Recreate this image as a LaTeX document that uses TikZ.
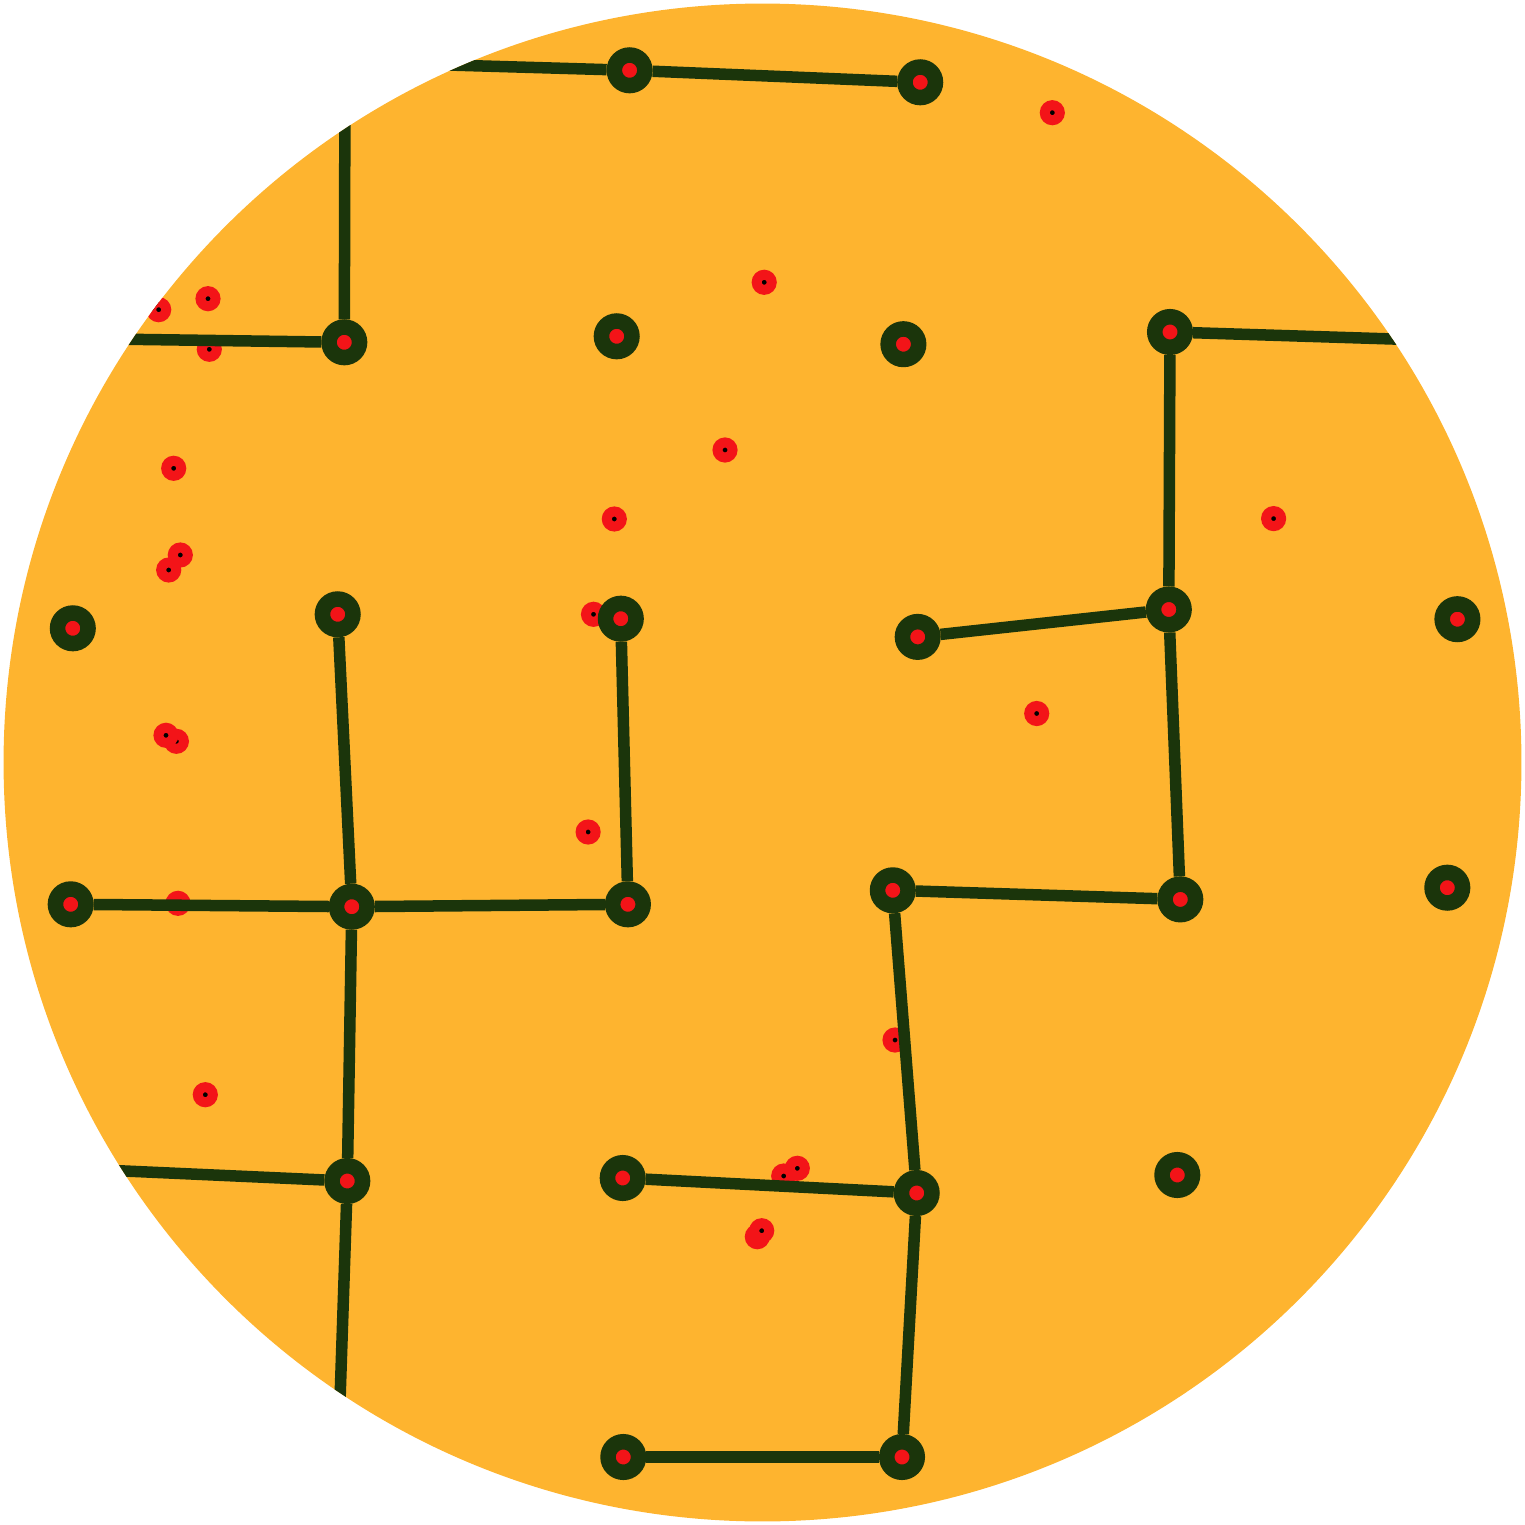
\documentclass[tikz,border=0pt]{standalone}
\usepackage{xcolor}
\definecolor{mzorange}{HTML}{FEB42F}
\definecolor{mzgreen}{HTML}{1B350B}
\definecolor{mzred}{HTML}{F31418}

\begin{document}
\begin{tikzpicture}[
    x=0.01cm, y=-0.01cm,
    vertex/.style={circle, fill=mzred, draw=mzgreen, line width=0.155cm,
                   minimum size=0.305cm, inner sep=0pt},
    spot/.style={circle, fill=black, draw=mzred, line width=0.1cm,
                 minimum size=0.15cm, inner sep=0pt},
    link/.style={line width=0.115cm, draw=mzgreen}
  ]
    \useasboundingbox (0,0) rectangle (1525,1525);
    \fill[mzorange] (762.5,762.5) circle [radius=7.585cm];
    \clip (762.5,762.5) circle [radius=7.585cm];

    \node[spot] (s1) at (1052.3,112.7) {};
    \node[spot] (s2) at (764.2,282.3) {};
    \node[spot] (s3) at (208,298.7) {};
    \node[spot] (s4) at (158.7,309.7) {};
    \node[spot] (s5) at (209.3,349.3) {};
    \node[spot] (s6) at (725,450) {};
    \node[spot] (s7) at (173.7,468.3) {};
    \node[spot] (s8) at (614.3,519) {};
    \node[spot] (s9) at (1273.6,518.6) {};
    \node[spot] (s10) at (180.3,555) {};
    \node[spot] (s11) at (168.7,570) {};
    \node[spot] (s12) at (593.5,614.3) {};
    \node[spot] (s13) at (1036.7,713.5) {};
    \node[spot] (s14) at (176.4,741.3) {};
    \node[spot] (s15) at (166,735.3) {};
    \node[spot] (s16) at (588.1,832) {};
    \node[spot] (s17) at (178,903.3) {};
    \node[spot] (s18) at (895,1040) {};
    \node[spot] (s19) at (205.3,1094.7) {};
    \node[spot] (s20) at (783.7,1176) {};
    \node[spot] (s21) at (797.3,1168.3) {};
    \node[spot] (s22) at (757.3,1236.7) {};
    \node[spot] (s23) at (761.7,1230.7) {};

    \coordinate (r1c1) at (345,62);
    \coordinate (r2c0) at (64,338.4);
    \coordinate (r2c5) at (1450,340.8);
    \coordinate (r5c0) at (67,1168.4);
    \coordinate (r6c1) at (338,1461);

    \node[vertex] (r1c2) at (629.6,70.3) {};
    \node[vertex] (r1c3) at (920.2,82.3) {};
    \node[vertex] (r2c1) at (344.3,342.3) {};
    \node[vertex] (r2c2) at (616.7,336.3) {};
    \node[vertex] (r2c3) at (903.4,344.2) {};
    \node[vertex] (r2c4) at (1170,332) {};
    \node[vertex] (r3c0) at (72.8,628.3) {};
    \node[vertex] (r3c1) at (337.7,614.3) {};
    \node[vertex] (r3c2) at (620.8,618.7) {};
    \node[vertex] (r3c3) at (917.7,636.9) {};
    \node[vertex] (r3c4) at (1168.8,609.5) {};
    \node[vertex] (r3c5) at (1457.4,619.2) {};
    \node[vertex] (r4c0) at (70.7,904.3) {};
    \node[vertex] (r4c1) at (351.8,906.7) {};
    \node[vertex] (r4c2) at (627.9,904.3) {};
    \node[vertex] (r4c3) at (892.8,890.3) {};
    \node[vertex] (r4c4) at (1180.3,899.4) {};
    \node[vertex] (r4c5) at (1447.3,887.7) {};
    \node[vertex] (r5c1) at (347.3,1181) {};
    \node[vertex] (r5c2) at (622.7,1178) {};
    \node[vertex] (r5c3) at (916.7,1193) {};
    \node[vertex] (r5c4) at (1177.3,1175) {};
    \node[vertex] (r6c2) at (623.3,1457) {};
    \node[vertex] (r6c3) at (902,1457) {};

    \draw[link] (r1c1) -- (r1c2);
    \draw[link] (r1c2) -- (r1c3);
    \draw[link] (r1c1) -- (r2c1);
    \draw[link] (r2c0) -- (r2c1);
    \draw[link] (r2c4) -- (r2c5);
    \draw[link] (r2c4) -- (r3c4);
    \draw[link] (r3c3) -- (r3c4);
    \draw[link] (r3c4) -- (r4c4);
    \draw[link] (r4c3) -- (r4c4);
    \draw[link] (r4c3) -- (r5c3);
    \draw[link] (r5c2) -- (r5c3);
    \draw[link] (r5c3) -- (r6c3);
    \draw[link] (r6c2) -- (r6c3);
    \draw[link] (r3c1) -- (r4c1);
    \draw[link] (r3c2) -- (r4c2);
    \draw[link] (r4c0) -- (r4c1);
    \draw[link] (r4c1) -- (r4c2);
    \draw[link] (r4c1) -- (r5c1);
    \draw[link] (r5c0) -- (r5c1);
    \draw[link] (r5c1) -- (r6c1);
  \end{tikzpicture}
\end{document}
